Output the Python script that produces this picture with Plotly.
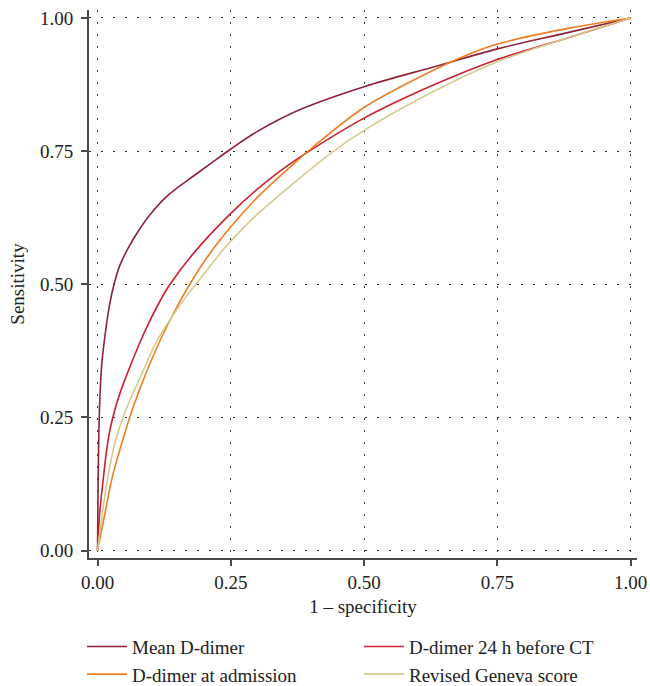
import plotly.graph_objects as go

# ---- data ----
mean_x = [0, 0.001, 0.0025, 0.0043, 0.008, 0.0135, 0.0225, 0.031, 0.042, 0.057, 0.076, 0.098, 0.13, 0.17, 0.21, 0.25, 0.30, 0.38, 0.5, 0.63, 0.75, 0.88, 1.0]
mean_y = [0, 0.12, 0.22, 0.283, 0.35, 0.40, 0.461, 0.5, 0.536, 0.567, 0.599, 0.63, 0.665, 0.696, 0.725, 0.754, 0.787, 0.828, 0.871, 0.908, 0.942, 0.972, 1.0]

h24_x = [0, 0.004, 0.0106, 0.016, 0.022, 0.03, 0.038, 0.051, 0.0775, 0.096, 0.118, 0.136, 0.18, 0.25, 0.305, 0.361, 0.40, 0.5, 0.63, 0.75, 0.88, 1.0]
h24_y = [0, 0.07, 0.133, 0.18, 0.22, 0.255, 0.283, 0.32, 0.386, 0.427, 0.47, 0.5, 0.558, 0.633, 0.683, 0.726, 0.752, 0.812, 0.874, 0.922, 0.962, 1.0]

adm_x = [0, 0.014, 0.027, 0.045, 0.062, 0.08, 0.1, 0.12, 0.145, 0.173, 0.21, 0.25, 0.292, 0.33, 0.361, 0.40, 0.5, 0.63, 0.692, 0.75, 0.88, 1.0]
adm_y = [0, 0.07, 0.135, 0.2, 0.255, 0.305, 0.355, 0.40, 0.45, 0.5, 0.557, 0.608, 0.655, 0.692, 0.72, 0.754, 0.832, 0.902, 0.93, 0.951, 0.98, 1.0]

gen_x = [0, 0.009, 0.019, 0.032, 0.048, 0.062, 0.08, 0.109, 0.135, 0.164, 0.186, 0.2326, 0.25, 0.295, 0.361, 0.436, 0.5, 0.63, 0.75, 0.88, 1.0]
gen_y = [0, 0.07, 0.135, 0.2, 0.25, 0.285, 0.325, 0.389, 0.432, 0.474, 0.502, 0.561, 0.581, 0.627, 0.684, 0.745, 0.789, 0.862, 0.918, 0.962, 1.0]

series = [
    ("Mean D-dimer", mean_x, mean_y, "#8E2236"),
    ("D-dimer 24 h before CT", h24_x, h24_y, "#CC1F30"),
    ("D-dimer at admission", adm_x, adm_y, "#EE7D22"),
    ("Revised Geneva score", gen_x, gen_y, "#D6CB8E"),
]

tick_vals = [0, 0.25, 0.5, 0.75, 1.0]
tick_text = ["0.00", "0.25", "0.50", "0.75", "1.00"]

FONT = "Liberation Serif"

fig = go.Figure()
for name, xs, ys, col in series:
    fig.add_trace(go.Scatter(
        x=xs, y=ys, mode="lines", name=name,
        line=dict(color=col, width=1.6, shape="spline", smoothing=1.0),
    ))

axis_common = dict(
    tickvals=tick_vals, ticktext=tick_text,
    showgrid=True, gridcolor="#333333", gridwidth=1.3, griddash="2px,10px",
    showline=True, linecolor="#4a4a4a", linewidth=2,
    ticks="outside", ticklen=6, tickwidth=1.5, tickcolor="#4a4a4a",
    zeroline=False, automargin=False, ticklabeloverflow="allow",
    tickfont=dict(family=FONT, size=19, color="#222222"),
    title_font=dict(family=FONT, size=19, color="#222222"),
)

fig.update_xaxes(range=[-0.016, 1.012], title_text="1 \u2013 specificity", title_standoff=8, **axis_common)
fig.update_yaxes(range=[-0.014, 1.015], title_text="Sensitivity", title_standoff=10, ticklabelstandoff=4, **axis_common)

fig.update_layout(
    width=650, height=686,
    margin=dict(l=89, r=13, t=10, b=128, autoexpand=False),
    plot_bgcolor="white", paper_bgcolor="white",
    font=dict(family=FONT, size=19, color="#222222"),
    legend=dict(
        orientation="h", x=-0.0128, y=-0.127, xanchor="left", yanchor="top",
        entrywidth=222, entrywidthmode="pixels",
        font=dict(family=FONT, size=19, color="#222222"),
        tracegroupgap=0, itemwidth=40,
    ),
    showlegend=True,
)

# remove the default 8px page margin so the figure fills the window exactly
fig.write_html(
    "out.html",
    config={"displayModeBar": False},
    post_script="document.body.style.margin='0';document.body.style.overflow='hidden';",
)
